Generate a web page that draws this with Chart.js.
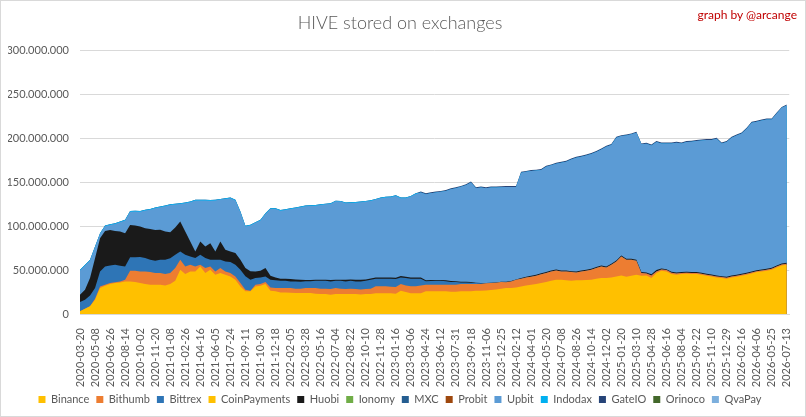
<!DOCTYPE html>
<html>
<head>
<meta charset="utf-8">
<title>HIVE stored on exchanges</title>
<script src="https://cdn.jsdelivr.net/npm/chart.js@4/dist/chart.umd.min.js"></script>
<style>
    html, body { margin: 0; padding: 0; background: #fff; }
    #wrap { position: relative; width: 806px; height: 417px; }
    #wrap canvas { position: absolute; left: 0; top: 0; }
    #frame { position: absolute; left: 0; top: 0; width: 804px; height: 415px; border: 1px solid #d9d9d9; pointer-events: none; }
    #credit { position: absolute; right: 9px; top: 7px; font: 12px Lato, sans-serif; color: #c00000; }
</style>
</head>
<body>
<div id="wrap">
    <canvas id="chart" width="806" height="417"></canvas>
    <div id="credit">graph by @arcange</div>
    <div id="frame"></div>
</div>
<script>
// Tick labels on the date axis (one every 49 days)
const tickLabels = [
    '2020-03-20', '2020-05-08', '2020-06-26', '2020-08-14', '2020-10-02', '2020-11-20',
    '2021-01-08', '2021-02-26', '2021-04-16', '2021-06-05', '2021-07-24', '2021-09-11',
    '2021-10-30', '2021-12-18', '2022-02-05', '2022-03-28', '2022-05-16', '2022-07-04',
    '2022-08-22', '2022-10-10', '2022-11-28', '2023-01-16', '2023-03-06', '2023-04-24',
    '2023-06-12', '2023-07-31', '2023-09-18', '2023-11-06', '2023-12-25', '2024-02-12',
    '2024-04-01', '2024-05-20', '2024-07-08', '2024-08-26', '2024-10-14', '2024-12-02',
    '2025-01-20', '2025-03-10', '2025-04-28', '2025-06-16', '2025-08-04', '2025-09-22',
    '2025-11-10', '2025-12-29', '2026-02-16', '2026-04-06', '2026-05-25', '2026-07-13'
];
// Samples are taken three per label step, values in millions of HIVE
const SAMPLES_PER_TICK = 3;

const binance = [
    3.0, 6.1, 8.7, 16.3, 29.5, 32.2, 34.1, 35.2, 36.0, 37.1, 37.1, 36.4, 35.2, 34.1, 33.3, 33.3,
    33.3, 32.6, 34.1, 37.9, 50.4, 45.5, 48.5, 48.5, 54.2, 46.6, 50.4, 44.7, 46.6, 44.7, 42.8, 39.0,
    31.4, 25.8, 25.8, 31.4, 32.2, 34.1, 26.5, 25.8, 24.6, 24.6, 24.2, 23.9, 23.9, 23.9, 23.9, 23.1,
    22.7, 22.7, 22.0, 22.7, 22.7, 22.7, 22.7, 22.7, 22.3, 22.7, 22.7, 23.5, 23.5, 23.5, 23.5, 23.1,
    26.5, 25.0, 23.5, 23.5, 23.5, 25.8, 25.8, 25.8, 25.8, 25.8, 25.4, 25.4, 25.8, 25.8, 25.8, 26.5,
    26.5, 26.9, 27.3, 28.0, 28.8, 29.5, 29.5, 30.3, 31.4, 32.6, 33.3, 34.1, 35.2, 36.4, 37.9, 39.0,
    39.0, 38.3, 37.9, 38.3, 38.3, 38.6, 39.0, 40.2, 40.9, 40.9, 41.7, 42.8, 43.9, 42.4, 43.6, 44.7,
    43.6, 43.9, 40.9, 46.6, 49.2, 48.5, 45.5, 44.7, 45.5, 45.8, 45.5, 45.5, 44.7, 43.6, 42.8, 41.7,
    40.9, 40.2, 41.7, 42.4, 43.6, 44.7, 46.2, 47.7, 48.5, 49.2, 50.4, 53.0, 55.3, 56.1
];
const bithumb = [
    0, 0, 0, 1.1, 1.9, 1.1, 1.1, 1.1, 1.1, 1.9, 12.1, 12.9, 13.3, 14.4, 14.4, 13.3,
    13.3, 12.9, 12.5, 14.4, 11.4, 8.7, 7.6, 5.7, 1.9, 5.7, 3.8, 3.8, 5.7, 3.8, 3.8, 3.8,
    3.8, 1.9, 0.8, 1.9, 1.9, 2.3, 3.8, 3.8, 4.9, 4.9, 5.3, 4.9, 4.9, 5.7, 5.7, 6.4,
    6.1, 6.1, 6.4, 6.8, 6.1, 5.7, 6.1, 5.7, 5.7, 5.7, 6.1, 8.0, 8.0, 8.0, 7.6, 7.6,
    7.6, 7.6, 8.0, 8.0, 9.1, 7.6, 7.6, 7.6, 7.6, 7.6, 8.0, 8.0, 8.3, 8.3, 8.3, 7.6,
    7.6, 8.0, 8.0, 7.6, 7.6, 6.8, 7.6, 8.7, 8.7, 9.1, 9.1, 9.5, 10.2, 10.2, 10.6, 10.6,
    9.5, 10.2, 9.8, 9.1, 10.2, 10.6, 11.4, 12.1, 13.3, 12.1, 14.4, 17.0, 21.6, 19.3, 18.2, 15.9,
    3.0, 2.3, 3.0, 1.9, 1.5, 1.5, 1.5, 1.5, 1.1, 1.1, 1.1, 1.1, 1.1, 1.1, 1.1, 1.1,
    1.1, 1.1, 1.1, 1.1, 1.1, 1.1, 1.1, 1.1, 1.1, 1.1, 1.1, 1.1, 1.1, 1.1
];
const bittrex = [
    10.6, 10.2, 12.5, 12.1, 17.0, 20.8, 20.1, 19.7, 17.8, 15.2, 15.5, 15.2, 16.3, 15.2, 14.0, 14.0,
    15.2, 16.3, 17.0, 15.2, 9.5, 13.3, 9.5, 9.5, 11.4, 11.4, 7.6, 13.3, 9.5, 11.4, 12.5, 13.3,
    15.2, 15.2, 12.5, 7.6, 7.6, 6.4, 8.7, 8.7, 8.3, 8.3, 7.6, 8.3, 8.0, 7.6, 7.6, 8.3,
    9.1, 9.1, 8.7, 8.3, 9.1, 8.7, 9.1, 8.7, 9.1, 9.5, 10.2, 8.7, 8.7, 8.7, 9.1, 9.1,
    7.6, 8.3, 8.7, 8.7, 7.6, 3.8, 4.2, 4.5, 4.5, 3.8, 3.0, 3.0, 1.9, 1.9, 1.5, 1.1,
    0.8, 0, 0, 0, 0, 0, 0, 0, 0, 0, 0, 0, 0, 0, 0, 0,
    0, 0, 0, 0, 0, 0, 0, 0, 0, 0, 0, 0, 0, 0, 0, 0,
    0, 0, 0, 0, 0, 0, 0, 0, 0, 0, 0, 0, 0, 0, 0, 0,
    0, 0, 0, 0, 0, 0, 0, 0, 0, 0, 0, 0, 0, 0
];
const huobi = [
    8.3, 11.4, 19.7, 34.1, 37.9, 40.5, 40.5, 38.6, 39.0, 37.9, 36.7, 36.4, 34.8, 34.1, 35.2, 35.2,
    34.1, 32.2, 29.5, 31.1, 34.1, 26.5, 17.0, 7.6, 15.2, 13.3, 18.9, 9.5, 20.8, 13.3, 12.1, 13.3,
    11.4, 9.5, 9.5, 7.6, 7.6, 9.5, 4.5, 3.4, 2.3, 2.3, 2.7, 2.3, 2.3, 1.5, 1.5, 1.1,
    1.1, 1.1, 1.5, 1.1, 1.1, 1.9, 1.5, 1.9, 1.9, 1.5, 1.5, 1.5, 1.5, 1.5, 1.5, 1.5,
    1.5, 1.5, 1.5, 1.5, 1.5, 1.1, 1.1, 0.8, 0.8, 1.1, 1.1, 0.8, 0.8, 0.8, 0.8, 0.4,
    0.4, 0.4, 0.4, 0.4, 0.4, 0.4, 0.4, 0.4, 0.8, 0.8, 1.1, 1.1, 1.1, 1.1, 1.1, 1.1,
    1.1, 1.1, 1.1, 1.1, 1.1, 1.1, 1.1, 1.1, 1.1, 1.1, 1.1, 1.1, 1.1, 1.1, 1.1, 1.1,
    1.1, 1.1, 1.5, 1.5, 1.1, 1.1, 1.1, 1.1, 1.1, 1.1, 1.1, 1.1, 1.1, 1.1, 1.1, 1.1,
    1.1, 1.1, 1.1, 1.1, 1.1, 1.1, 1.1, 1.1, 1.1, 1.1, 1.1, 1.1, 1.1, 1.1
];
const upbit = [
    27.6, 27.6, 20.0, 12.5, 4.9, 5.3, 5.6, 7.9, 10.6, 14.4, 15.1, 15.9, 17.0, 20.0, 21.9, 24.6,
    25.7, 28.7, 31.0, 26.1, 20.0, 32.2, 44.7, 57.9, 46.5, 52.2, 48.4, 57.9, 47.7, 57.9, 60.6, 59.8,
    54.1, 47.3, 52.2, 55.3, 57.2, 61.7, 76.2, 78.0, 77.6, 78.4, 79.9, 81.0, 82.5, 84.0, 84.4, 84.4,
    85.2, 85.9, 86.7, 89.4, 89.0, 87.1, 87.1, 87.8, 88.2, 88.6, 88.2, 88.6, 90.1, 90.9, 91.2, 93.1,
    88.6, 89.4, 92.0, 95.0, 96.6, 98.1, 98.9, 99.7, 100.4, 101.9, 104.6, 106.1, 108.0, 109.9, 113.3, 107.6,
    108.7, 108.0, 108.4, 108.0, 107.6, 108.0, 107.2, 105.3, 120.1, 119.4, 119.4, 118.6, 117.5, 120.1, 119.7, 120.5,
    122.8, 123.9, 127.3, 129.6, 129.6, 130.3, 130.7, 131.1, 132.2, 136.4, 135.3, 139.8, 136.0, 140.6, 141.7, 144.7,
    145.5, 146.6, 146.6, 145.9, 142.5, 143.2, 146.2, 147.8, 146.6, 147.8, 148.5, 149.3, 150.8, 152.3, 153.1, 155.7,
    151.2, 153.4, 156.9, 158.8, 159.9, 164.1, 169.4, 169.0, 169.7, 170.1, 169.0, 173.1, 177.3, 179.2
];
const indodax = [
    0.8, 0.8, 0.8, 0.8, 0.8, 0.8, 0.8, 0.8, 0.8, 0.8, 0.8, 0.8, 0.8, 0.8, 0.8, 0.8,
    0.8, 0.8, 0.8, 0.8, 0.8, 0.8, 0.8, 0.8, 0.8, 0.8, 0.8, 0.8, 0.8, 0.8, 0.8, 0.8,
    0.8, 0.8, 0.8, 0.8, 0.8, 0.8, 0.8, 0.8, 0.8, 0.8, 0.8, 0.8, 0.8, 0.8, 0.8, 0.8,
    0.8, 0.8, 0.8, 0.8, 0.8, 0.8, 0.8, 0.8, 0.8, 0.8, 0.8, 0.8, 0.8, 0.8, 0.8, 0.8,
    0.8, 0.8, 0.8, 0.8, 0, 0, 0, 0, 0, 0, 0, 0, 0, 0, 0, 0,
    0, 0, 0, 0, 0, 0, 0, 0, 0, 0, 0, 0, 0, 0, 0, 0,
    0, 0, 0, 0, 0, 0, 0, 0, 0, 0, 0, 0, 0, 0, 0, 0,
    0, 0, 0, 0, 0, 0, 0, 0, 0, 0, 0, 0, 0, 0, 0, 0,
    0, 0, 0, 0, 0, 0, 0, 0, 0, 0, 0, 0, 0, 0
];
const gateio = [
    0, 0, 0, 0, 0, 0, 0, 0, 0, 0, 0, 0, 0, 0, 0, 0,
    0, 0, 0, 0, 0, 0, 0, 0, 0, 0, 0, 0, 0, 0, 0, 0,
    0, 0, 0, 0, 0, 0, 0, 0, 0, 0, 0, 0, 0, 0, 0, 0,
    0, 0, 0, 0, 0, 0, 0, 0, 0, 0, 0, 0, 0, 0, 0, 0,
    0, 0, 0, 0, 1.1, 1.1, 1.1, 1.1, 1.1, 1.1, 1.1, 1.1, 1.1, 1.1, 1.1, 1.1,
    1.1, 1.1, 1.1, 1.1, 1.1, 1.1, 1.1, 1.1, 1.1, 1.1, 1.1, 1.1, 1.1, 1.1, 1.1, 1.1,
    1.1, 1.1, 1.1, 1.1, 1.1, 1.1, 1.1, 1.1, 1.1, 1.1, 1.1, 1.1, 1.1, 1.1, 1.1, 1.1,
    1.1, 1.1, 1.1, 1.1, 1.1, 1.1, 1.1, 1.1, 1.1, 1.1, 1.1, 1.1, 1.1, 1.1, 1.1, 1.1,
    1.1, 1.1, 1.1, 1.1, 1.1, 1.1, 1.1, 1.1, 1.1, 1.1, 1.1, 1.1, 1.1, 1.1
];
// Too small to read on the picture: legend only
const coinPayments = [];
const ionomy = [];
const mxc = [];
const probit = [];
const orinoco = [];
const qvaPay = [];

// Stack order, bottom to top
const series = [
    { label: 'Binance', values: binance, color: '#FFC000' },
    { label: 'Bithumb', values: bithumb, color: '#ED7D31' },
    { label: 'Bittrex', values: bittrex, color: '#2E75B6' },
    { label: 'CoinPayments', values: coinPayments, color: '#FFC000' },
    { label: 'Huobi', values: huobi, color: '#1A1A1A' },
    { label: 'Ionomy', values: ionomy, color: '#70AD47' },
    { label: 'MXC', values: mxc, color: '#255E91' },
    { label: 'Probit', values: probit, color: '#9E480E' },
    { label: 'Upbit', values: upbit, color: '#5B9BD5' },
    { label: 'Indodax', values: indodax, color: '#00B0F0' },
    { label: 'GateIO', values: gateio, color: '#264478' },
    { label: 'Orinoco', values: orinoco, color: '#43682B' },
    { label: 'QvaPay', values: qvaPay, color: '#7CAFDD' }
];

const textColor = '#595959';
const gridColor = '#d9d9d9';
const fontFamily = "Lato, 'Open Sans', sans-serif";

function formatThousands(value) {
    return String(Math.round(value)).replace(/\B(?=(\d{3})+(?!\d))/g, '.');
}

const datasets = series.map(s => ({
    label: s.label,
    data: s.values.map((v, i) => ({ x: i, y: v * 1e6 })),
    backgroundColor: s.color,
    borderColor: s.color,
    borderWidth: 0,
    pointRadius: 0,
    fill: 'origin',
    tension: 0
}));

const ctx = document.getElementById('chart');
new Chart(ctx, {
    type: 'line',
    data: { datasets },
    options: {
        responsive: false,
        animation: false,
        events: [],
        layout: { padding: { top: 12, right: 14, bottom: 2, left: 8 } },
        plugins: {
            title: {
                display: true,
                text: 'HIVE stored on exchanges',
                color: textColor,
                font: { family: fontFamily, size: 18, weight: '300' },
                padding: { top: 0, bottom: 17 }
            },
            legend: {
                position: 'bottom',
                labels: {
                    boxWidth: 7,
                    boxHeight: 7,
                    padding: 7,
                    color: textColor,
                    font: { family: fontFamily, size: 11 }
                }
            },
            tooltip: { enabled: false }
        },
        scales: {
            x: {
                type: 'linear',
                min: 0,
                max: 141.5,
                grid: { display: false },
                border: { color: gridColor },
                afterBuildTicks: scale => {
                    scale.ticks = tickLabels.map((_, k) => ({ value: k * SAMPLES_PER_TICK }));
                },
                afterFit: scale => { scale.height = 73; },
                ticks: {
                    autoSkip: false,
                    maxRotation: 90,
                    minRotation: 90,
                    padding: 6,
                    color: textColor,
                    font: { family: fontFamily, size: 11 },
                    callback: value => tickLabels[Math.round(value / SAMPLES_PER_TICK)]
                }
            },
            y: {
                stacked: true,
                min: 0,
                max: 300000000,
                grid: { color: gridColor, drawTicks: false },
                border: { display: false },
                afterFit: scale => { scale.width = 72; },
                ticks: {
                    stepSize: 50000000,
                    padding: 11,
                    color: textColor,
                    font: { family: fontFamily, size: 11 },
                    callback: value => formatThousands(value)
                }
            }
        }
    }
});
</script>
</body>
</html>
